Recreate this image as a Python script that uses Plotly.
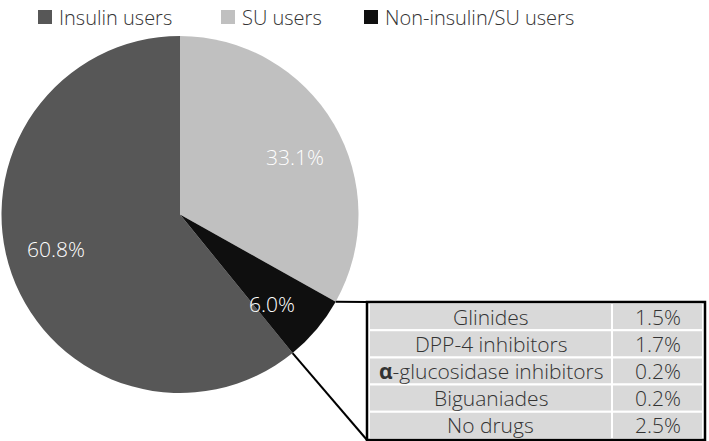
import math
import plotly.graph_objects as go

# ---------------- data ----------------
labels = ["Insulin users", "SU users", "Non-insulin/SU users"]
values = [60.8, 33.1, 6.0]
colors = ["#575757", "#c0c0c0", "#0f0f0f"]

drug_names = ["Glinides", "DPP-4 inhibitors", "<b>α</b>-glucosidase inhibitors",
              "Biguaniades", "No drugs"]
drug_pcts = ["1.5%", "1.7%", "0.2%", "0.2%", "2.5%"]

# ---------------- layout geometry (px, top-left origin) ----------------
W, H = 709, 441
cx, cy, R = 180, 214.5, 178.5            # pie centre / radius
tx0, tx1, ty0, ty1 = 367, 705, 302, 440  # table outer box
col_split = 612
legend_x = [38, 221, 364]                # left edge of each legend square
legend_y = 17
label_r = 0.72                           # radial position of % labels (fraction of R)
label_shift = 4                          # small clockwise shift of % labels (deg)
FONT = "Open Sans, Noto Sans, sans-serif"
TXT = "#333333"


def px(x):
    return x / W


def py(y):
    return 1 - y / H


total = sum(values)
rotation = 360 * (values[1] + values[2]) / total   # SU starts at 12 o'clock

fig = go.Figure()
fig.add_trace(go.Pie(
    labels=labels, values=values, sort=False, direction="clockwise",
    rotation=rotation,
    marker=dict(colors=colors, line=dict(width=0)),
    textinfo="none",
    domain=dict(x=[px(cx - R), px(cx + R)], y=[py(cy + R), py(cy - R)]),
    hoverinfo="label+value", showlegend=False,
))

shapes, annotations = [], []

# percentage labels placed near each slice's mid angle
start = rotation
for v in values:
    span = 360 * v / total
    mid = math.radians(start + span / 2 + label_shift)
    r = label_r * R
    annotations.append(dict(x=px(cx + r * math.sin(mid)), y=py(cy - r * math.cos(mid)),
                            xref="paper", yref="paper", text=f"{v:.1f}%", showarrow=False,
                            xanchor="center", yanchor="middle",
                            font=dict(family=FONT, size=21, color="white", weight=300)))
    start += span

# legend (manual, to match spacing)
for lx, lab, col in zip(legend_x, labels, colors):
    shapes.append(dict(type="rect", xref="paper", yref="paper",
                       x0=px(lx), x1=px(lx + 14), y0=py(legend_y + 7), y1=py(legend_y - 7),
                       fillcolor=col, line=dict(width=0)))
    annotations.append(dict(x=px(lx + 19), y=py(legend_y), xref="paper", yref="paper",
                            text=lab, showarrow=False, xanchor="left", yanchor="middle",
                            font=dict(family=FONT, size=20, color=TXT, weight=300)))

# table cells
n = len(drug_names)
iy0, iy1 = ty0 + 1, ty1 - 1
rh = (iy1 - iy0) / n
for i, (name, pct) in enumerate(zip(drug_names, drug_pcts)):
    y0 = iy0 + i * rh
    for (x0, x1), txt in (((tx0 + 2, col_split), name), ((col_split, tx1 - 2), pct)):
        shapes.append(dict(type="rect", xref="paper", yref="paper",
                           x0=px(x0), x1=px(x1), y0=py(y0 + rh), y1=py(y0),
                           fillcolor="#d9d9d9", line=dict(color="white", width=2)))
        annotations.append(dict(x=px((x0 + x1) / 2), y=py(y0 + rh / 2), xref="paper",
                                yref="paper", text=txt, showarrow=False,
                                xanchor="center", yanchor="middle",
                                font=dict(family=FONT, size=21, color=TXT, weight=300)))

shapes.append(dict(type="rect", xref="paper", yref="paper",
                   x0=px(tx0), x1=px(tx1), y0=py(ty1), y1=py(ty0),
                   line=dict(color="black", width=2.5)))

# connector lines from the Non-insulin/SU slice boundaries to the table corners
a1 = math.radians(360 * values[1] / total)
a2 = math.radians(360 * (values[1] + values[2]) / total)
for ang, ty in ((a1, ty0), (a2, ty1)):
    ex, ey = cx + R * math.sin(ang), cy - R * math.cos(ang)
    shapes.append(dict(type="line", xref="paper", yref="paper",
                       x0=px(ex), y0=py(ey), x1=px(tx0), y1=py(ty),
                       line=dict(color="black", width=2)))

fig.update_layout(
    width=W, height=H, margin=dict(l=0, r=0, t=0, b=0, autoexpand=False),
    paper_bgcolor="white", plot_bgcolor="white",
    font=dict(family=FONT, color=TXT),
    showlegend=False,
    shapes=shapes, annotations=annotations,
)
fig.write_html("out.html", config={"displayModeBar": False},
               post_script="document.body.style.margin='0';document.body.style.overflow='hidden';")
